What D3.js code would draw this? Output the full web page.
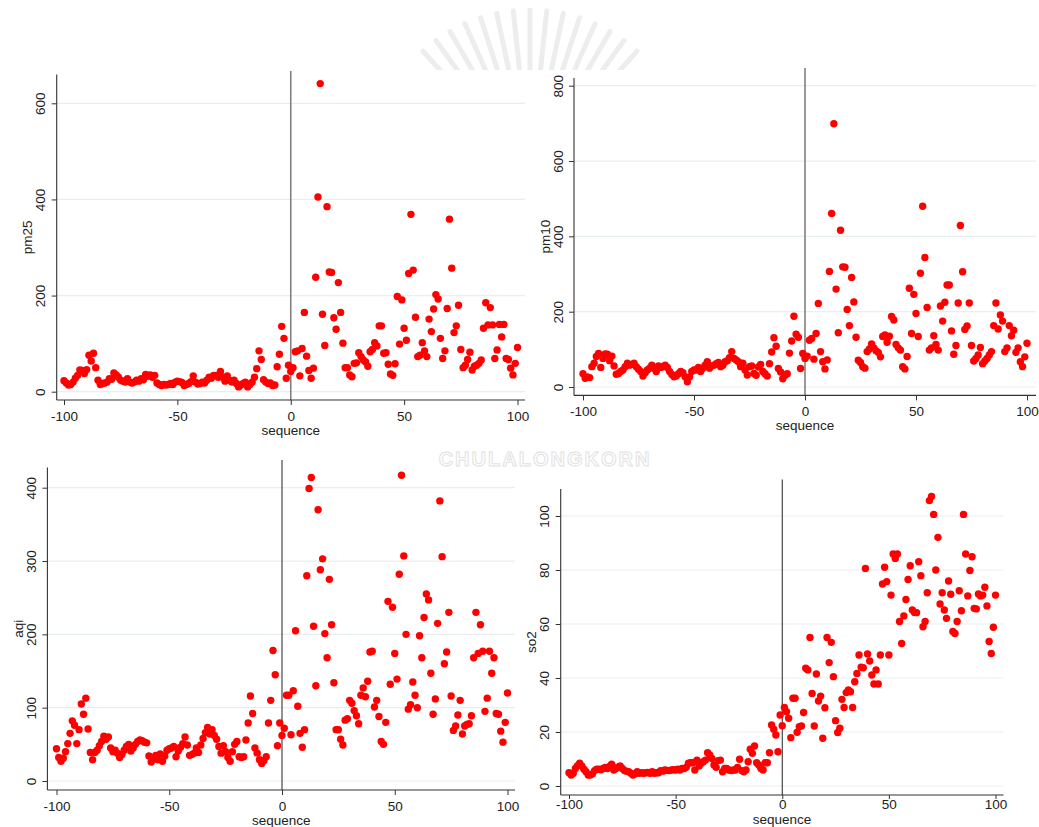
<!DOCTYPE html>
<html>
<head>
<meta charset="utf-8">
<script src="https://cdn.jsdelivr.net/npm/d3@7"></script>
<style>
  body { margin: 0; background: #fff; }
  svg { display: block; font-family: "Liberation Sans", Arial, sans-serif; }
</style>
</head>
<body>
<svg id="chart" width="1039" height="827"></svg>
<script>
// one observation per sequence step, from -100 to 100
const seqStart = -100;
const xTicks = [-100, -50, 0, 50, 100];

const pm25 = [
  23, 18, 14, 15, 20, 28, 34, 45, 44, 38,
  46, 76, 64, 80, 50, 24, 15, 17, 18, 20,
  27, 26, 39, 35, 30, 24, 22, 20, 27, 20,
  18, 20, 24, 22, 27, 25, 36, 32, 35, 30,
  34, 18, 15, 13, 15, 14, 15, 17, 15, 20,
  22, 21, 19, 13, 15, 17, 21, 33, 20, 16,
  17, 20, 18, 24, 30, 28, 34, 34, 30, 42,
  30, 22, 33, 24, 20, 24, 17, 10, 14, 17,
  20, 10, 15, 20, 30, 48, 85, 67, 25, 20,
  17, 18, 13, 14, 52, 78, 136, 111, 28, 55,
  42, 50, 83, 85, 33, 90, 165, 74, 44, 28,
  49, 238, 405, 641, 161, 96, 385, 249, 248, 154,
  130, 227, 165, 101, 50, 50, 35, 31, 59, 60,
  81, 73, 66, 62, 53, 83, 88, 102, 95, 137,
  137, 80, 81, 57, 37, 34, 58, 198, 99, 191,
  132, 107, 246, 369, 253, 155, 73, 76, 102, 85,
  73, 151, 125, 172, 202, 193, 111, 69, 85, 173,
  359, 257, 123, 137, 180, 88, 50, 55, 67, 82,
  45, 53, 55, 59, 66, 132, 185, 139, 175, 139,
  69, 87, 140, 114, 140, 69, 67, 49, 35, 59,
  92
];

const pm10 = [
  35, 23, 27, 25, 54, 63, 81, 89, 52, 76,
  88, 87, 70, 82, 56, 34, 36, 41, 45, 54,
  63, 58, 60, 63, 54, 47, 41, 29, 38, 45,
  50, 58, 50, 41, 56, 52, 54, 58, 52, 41,
  33, 27, 29, 35, 41, 38, 27, 14, 27, 41,
  45, 45, 52, 41, 50, 58, 67, 50, 56, 58,
  62, 65, 54, 58, 67, 70, 78, 94, 76, 72,
  67, 54, 63, 45, 32, 54, 56, 36, 31, 53,
  60, 41, 35, 29, 62, 93, 131, 108, 49, 40,
  22, 31, 35, 90, 122, 188, 140, 132, 49, 89,
  76, 82, 124, 129, 74, 142, 222, 94, 67, 48,
  72, 307, 461, 699, 260, 144, 416, 319, 318, 206,
  163, 291, 226, 132, 71, 65, 54, 50, 94, 101,
  114, 104, 96, 92, 80, 134, 138, 119, 135, 187,
  178, 113, 104, 98, 54, 48, 81, 262, 142, 246,
  195, 134, 302, 480, 344, 211, 98, 104, 136, 113,
  98, 215, 175, 225, 271, 271, 149, 87, 110, 223,
  429, 306, 153, 162, 223, 110, 69, 76, 85, 105,
  62, 69, 76, 85, 94, 163, 223, 154, 191, 175,
  94, 104, 163, 136, 151, 92, 104, 67, 54, 80,
  116
];

const aqi = [
  44, 32, 27, 31, 40, 51, 65, 82, 76, 51,
  70, 105, 91, 113, 71, 39, 29, 39, 42, 48,
  54, 61, 57, 60, 45, 40, 42, 38, 32, 36,
  42, 47, 50, 41, 45, 50, 54, 56, 55, 53,
  52, 34, 26, 30, 35, 29, 37, 27, 34, 42,
  44, 45, 47, 33, 41, 46, 51, 60, 49, 35,
  36, 38, 45, 39, 49, 58, 66, 73, 64, 70,
  62, 57, 47, 38, 48, 40, 32, 27, 40, 50,
  54, 33, 32, 33, 56, 79, 116, 92, 45, 38,
  29, 24, 28, 33, 79, 110, 178, 145, 48, 79,
  62, 72, 117, 117, 63, 123, 205, 102, 65, 46,
  70, 280, 399, 414, 211, 130, 370, 288, 303, 201,
  168, 275, 213, 134, 70, 70, 57, 49, 83, 85,
  110, 106, 96, 89, 78, 117, 127, 115, 136, 176,
  177, 101, 110, 88, 54, 50, 80, 245, 132, 237,
  174, 139, 282, 417, 307, 200, 98, 104, 135, 117,
  100, 198, 168, 223, 255, 247, 147, 91, 112, 215,
  382, 306, 160, 176, 230, 116, 69, 75, 90, 110,
  64, 75, 77, 78, 89, 168, 230, 174, 213, 177,
  95, 113, 177, 147, 168, 92, 91, 68, 53, 80,
  120
];

const so2 = [
  4.9, 4.1, 4.7, 6.5, 7.5, 8.4, 7.4, 6.2, 5.3, 4.1,
  4.1, 4.5, 5.7, 6.2, 6.2, 6.0, 6.5, 6.9, 6.5, 7.2,
  8.1, 5.9, 6.5, 7.0, 7.4, 6.5, 5.7, 5.5, 5.3, 4.7,
  4.1, 4.5, 5.3, 4.7, 4.9, 4.7, 4.9, 5.0, 4.7, 5.3,
  4.7, 4.9, 4.9, 5.7, 5.5, 5.9, 5.8, 5.7, 5.9, 6.0,
  5.9, 6.2, 5.9, 6.5, 6.5, 6.9, 8.4, 8.6, 8.6, 5.9,
  9.6, 7.4, 8.4, 9.0, 9.6, 12.3, 11.5, 10.2, 7.8, 6.9,
  9.4, 9.6, 5.3, 6.5, 6.5, 5.9, 5.7, 5.9, 5.9, 6.9,
  9.9, 5.7, 5.3, 5.9, 9.0, 13.6, 12.1, 14.8, 8.6, 7.8,
  6.5, 5.9, 8.6, 8.6, 12.3, 22.6, 21.0, 18.9, 12.7, 26.3,
  22.3, 29.1, 27.5, 25.1, 17.9, 32.5, 32.5, 19.9, 22.0, 22.2,
  27.2, 43.6, 43.0, 55.0, 34.3, 22.2, 41.5, 31.5, 33.3, 17.7,
  29.0, 55.0, 45.7, 53.2, 40.5, 24.2, 19.8, 21.4, 32.1, 29.1,
  34.6, 35.6, 34.9, 29.1, 38.6, 41.7, 48.5, 44.0, 43.8, 80.6,
  48.9, 46.3, 41.1, 37.8, 43.0, 37.8, 48.5, 74.8, 81.0, 75.7,
  48.5, 70.7, 85.9, 84.3, 85.9, 60.9, 52.8, 63.0, 69.1, 76.5,
  81.6, 65.2, 64.3, 64.2, 83.1, 77.9, 59.0, 60.9, 71.6, 105.7,
  107.2, 100.6, 80.0, 92.1, 67.4, 71.6, 65.2, 62.1, 75.9, 71.0,
  57.2, 56.5, 60.9, 72.3, 64.9, 100.6, 85.9, 70.4, 79.8, 84.9,
  65.8, 65.6, 71.1, 70.4, 70.7, 73.6, 66.7, 53.5, 49.1, 58.8,
  70.7
];

const pm25Ticks = [0, 200, 400, 600];
const pm10Ticks = [0, 200, 400, 600, 800];
const aqiTicks = [0, 100, 200, 300, 400];
const so2Ticks = [0, 20, 40, 60, 80, 100];

const svg = d3.select("#chart");

// faint emblem watermark behind the graphs
function drawWatermark() {
  svg.append("clipPath").attr("id", "wmclip")
    .append("rect").attr("x", 380).attr("y", 0).attr("width", 330).attr("height", 70);
  const fan = svg.append("g").attr("clip-path", "url(#wmclip)");
  const angles = d3.range(-42, 43, 6);
  fan.selectAll("line").data(angles).join("line")
    .attr("x1", a => 530 + 100 * Math.sin(a * Math.PI / 180))
    .attr("y1", a => 170 - 100 * Math.cos(a * Math.PI / 180))
    .attr("x2", a => 530 + 160 * Math.sin(a * Math.PI / 180))
    .attr("y2", a => 170 - 160 * Math.cos(a * Math.PI / 180))
    .attr("stroke", "#ededed")
    .attr("stroke-width", 5)
    .attr("stroke-linecap", "round");
  svg.append("text")
    .attr("x", 545).attr("y", 466)
    .attr("text-anchor", "middle")
    .attr("font-size", 20).attr("font-weight", "bold")
    .attr("letter-spacing", 2)
    .attr("fill", "none").attr("stroke", "#e2e2e2").attr("stroke-width", 1)
    .text("CHULALONGKORN");
}

const panels = [
  { title: "pm25", values: pm25, ticks: pm25Ticks,
    left: 56.7, right: 525, top: 74.6, bottom: 400,
    x0: 64, x1: 517.5, y0: 391.7, yTop: 103.3, tickLen: 5, tickPad: 6, titleBase: 34.7,
    lineTop: 71, lineColor: "#808080", lineWidth: 1.6 },
  { title: "pm10", values: pm10, ticks: pm10Ticks,
    left: 574, right: 1036, top: 78, bottom: 395.4,
    x0: 583, x1: 1027, y0: 387, yTop: 85.7, tickLen: 5, tickPad: 6, titleBase: 34.7,
    lineTop: 68, lineColor: "#808080", lineWidth: 1.6 },
  { title: "aqi", values: aqi, ticks: aqiTicks,
    left: 47.4, right: 515, top: 467.4, bottom: 790,
    x0: 56.5, x1: 507.5, y0: 781, yTop: 487.7, tickLen: 5, tickPad: 6, titleBase: 34.7,
    lineTop: 460, lineColor: "#222", lineWidth: 1 },
  { title: "so2", values: so2, ticks: so2Ticks,
    left: 560.7, right: 1003.5, top: 489, bottom: 795,
    x0: 569, x1: 995.5, y0: 786, yTop: 516, tickLen: 4, tickPad: 0, titleBase: 29,
    lineTop: 479.5, lineColor: "#222", lineWidth: 1 }
];

function drawPanel(p) {
  const x = d3.scaleLinear().domain([-100, 100]).range([p.x0, p.x1]);
  const y = d3.scaleLinear().domain([0, p.ticks[p.ticks.length - 1]]).range([p.y0, p.yTop]);
  const g = svg.append("g");

  // grid lines
  g.selectAll("line.grid").data(p.ticks).join("line")
    .attr("class", "grid")
    .attr("x1", p.left).attr("x2", p.right)
    .attr("y1", d => y(d)).attr("y2", d => y(d))
    .attr("stroke", "#e7eff0").attr("stroke-width", 1.2);

  // reference line at sequence 0
  g.append("line")
    .attr("x1", x(0)).attr("x2", x(0))
    .attr("y1", p.lineTop).attr("y2", p.bottom)
    .attr("stroke", p.lineColor).attr("stroke-width", p.lineWidth);

  g.selectAll("circle").data(p.values).join("circle")
    .attr("cx", (d, i) => x(seqStart + i))
    .attr("cy", d => y(d))
    .attr("r", 3.7)
    .attr("fill", "#ff0000");

  // x axis
  const xa = g.append("g")
    .attr("transform", `translate(0,${p.bottom})`)
    .call(d3.axisBottom(x).tickValues(xTicks).tickFormat(d => String(d))
      .tickSize(p.tickLen).tickPadding(p.tickPad));
  xa.select(".domain").remove();
  xa.append("line").attr("x1", p.left).attr("x2", p.right)
    .attr("stroke", "#333").attr("stroke-width", 1.1);

  // y axis, labels turned on their side
  const ya = g.append("g")
    .attr("transform", `translate(${p.left},0)`)
    .call(d3.axisLeft(y).tickValues(p.ticks).tickFormat(d => String(d)).tickSize(5));
  ya.select(".domain").remove();
  ya.append("line").attr("y1", p.top).attr("y2", p.bottom)
    .attr("stroke", "#333").attr("stroke-width", 1.1);
  ya.selectAll(".tick text")
    .attr("transform", "rotate(-90)")
    .attr("x", 0).attr("y", -11.5).attr("dy", null)
    .attr("text-anchor", "middle");

  [xa, ya].forEach(a => {
    a.attr("font-family", null).attr("font-size", 13.5);
    a.selectAll(".tick line").attr("stroke", "#333");
    a.selectAll(".tick text").attr("fill", "#222");
  });

  // titles
  g.append("text")
    .attr("transform", `translate(${p.left - 29},${(p.top + p.bottom) / 2}) rotate(-90)`)
    .attr("text-anchor", "middle").attr("dy", "0.35em")
    .attr("font-size", 13.5).attr("fill", "#222")
    .text(p.title);
  g.append("text")
    .attr("x", (p.left + p.right) / 2).attr("y", p.bottom + p.titleBase)
    .attr("text-anchor", "middle")
    .attr("font-size", 13.5).attr("fill", "#222")
    .text("sequence");
}

drawWatermark();
panels.forEach(drawPanel);
</script>
</body>
</html>
